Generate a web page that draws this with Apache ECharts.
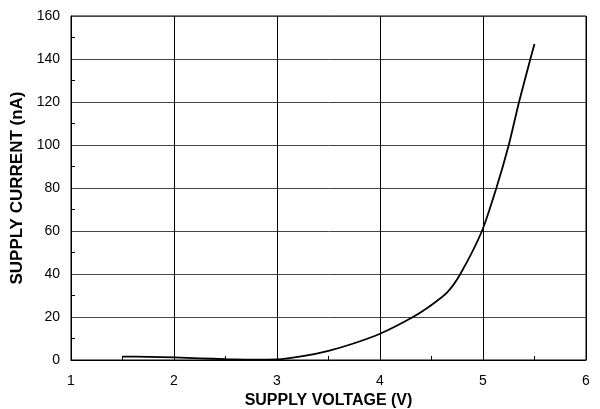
<!DOCTYPE html>
<html><head><meta charset="utf-8">
<script src="https://cdn.jsdelivr.net/npm/echarts@6/dist/echarts.min.js"></script>
<style>html,body{margin:0;padding:0;background:#fff}#c{width:600px;height:409px}</style>
</head><body><div id="c"></div>
<script>
var voltage = [1.5, 1.75, 2.0, 2.25, 2.5, 2.75, 3.0, 3.25, 3.5, 3.75, 4.0, 4.32, 4.5, 4.65, 4.78, 4.99, 5.13, 5.25, 5.35, 5.46, 5.5];
var current = [1.6, 1.5, 1.2, 0.8, 0.4, 0.2, 0.3, 1.8, 4.3, 7.8, 12.2, 20, 25.6, 31.3, 40, 60, 80, 100, 120, 140, 147];
var xTitle = 'SUPPLY VOLTAGE (V)';
var yTitle = 'SUPPLY CURRENT (nA)';
var pts = voltage.map(function(v, i){ return [v, current[i]]; });
var chart = echarts.init(document.getElementById('c'));
var font = 'Liberation Sans, Arial, sans-serif';
chart.setOption({
  animation: false,
  grid: {left: 71, width: 515, top: 16, height: 344, show: true, borderColor: '#000', borderWidth: 1, outerBoundsMode: 'none', containLabel: false},
  xAxis: {
    type: 'value', min: 1, max: 6, interval: 1,
    name: xTitle, nameLocation: 'middle', nameGap: 33,
    nameTextStyle: {fontFamily: font, fontWeight: 'bold', fontSize: 16, color: '#000'},
    axisLine: {show: true, lineStyle: {color: '#000', width: 1}},
    axisTick: {show: false},
    minorTick: {show: true, splitNumber: 2, length: -4, lineStyle: {color: '#000'}},
    axisLabel: {fontFamily: font, fontSize: 14, color: '#000', margin: 14},
    splitLine: {show: true, lineStyle: {color: '#000', width: 1}}
  },
  yAxis: {
    type: 'value', min: 0, max: 160, interval: 20,
    name: yTitle, nameLocation: 'middle', nameGap: 42, nameRotate: 90,
    nameTextStyle: {fontFamily: font, fontWeight: 'bold', fontSize: 17, color: '#000'},
    axisLine: {show: true, lineStyle: {color: '#000', width: 1}},
    axisTick: {show: false},
    minorTick: {show: true, splitNumber: 2, length: -4, lineStyle: {color: '#000'}},
    axisLabel: {fontFamily: font, fontSize: 14, color: '#000', margin: 11},
    splitLine: {show: true, lineStyle: {color: '#444', width: 1}}
  },
  series: [{
    type: 'line', data: pts, smooth: 0.25, showSymbol: false,
    lineStyle: {color: '#000', width: 1.8}
  }]
});
</script></body></html>
